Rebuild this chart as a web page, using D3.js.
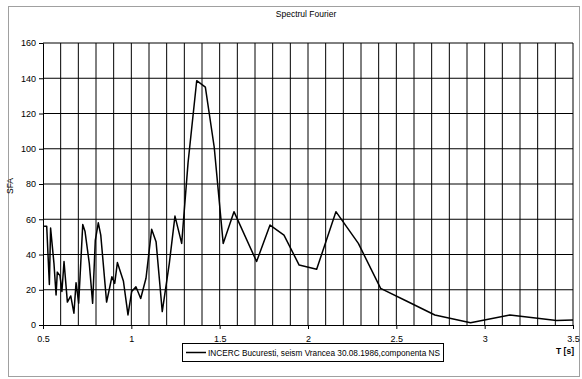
<!DOCTYPE html>
<html>
<head>
<meta charset="utf-8">
<script src="https://cdn.jsdelivr.net/npm/d3@7"></script>
<style>
  body { margin: 0; background: #fff; }
  svg { display: block; font-family: "Liberation Sans", Arial, sans-serif; }
  .grid line { stroke: #000; stroke-width: 1; shape-rendering: auto; }
  .axis path, .axis line { stroke: #000; }
  .axis text { font-size: 9px; fill: #000; }
</style>
</head>
<body>
<svg id="chart" width="582" height="379"></svg>
<script>
// periods T [s]
const periods = [0.506, 0.521, 0.536, 0.543, 0.562, 0.574, 0.581, 0.596, 0.607, 0.619,
  0.638, 0.657, 0.675, 0.687, 0.702, 0.725, 0.738, 0.762, 0.781, 0.796,
  0.813, 0.827, 0.860, 0.879, 0.890, 0.906, 0.921, 0.955, 0.981, 1.002,
  1.026, 1.053, 1.083, 1.115, 1.140, 1.175, 1.215, 1.247, 1.285, 1.321,
  1.370, 1.419, 1.469, 1.520, 1.581, 1.709, 1.785, 1.864, 1.950, 2.049,
  2.158, 2.285, 2.411, 2.560, 2.718, 2.920, 3.143, 3.407, 3.500]
// SFA values
const sfa = [56, 56, 23, 55, 35, 17, 30, 28, 19, 36,
  13, 16.5, 6.7, 24, 12.4, 57, 53, 35, 12.3, 48,
  58, 51, 13, 22, 27.4, 23.6, 35.4, 25, 5.7, 19,
  21.7, 15, 26.5, 54.3, 47.3, 7.6, 35, 61.8, 46.3, 92,
  138.6, 135, 101, 46.3, 64.3, 36, 56.7, 51, 34, 31.6,
  64.3, 46.3, 20.8, 13.5, 5.7, 1.3, 5.7, 2.5, 2.8]

const xTicks = [0.5, 1, 1.5, 2, 2.5, 3, 3.5]
const yTicks = [0, 20, 40, 60, 80, 100, 120, 140, 160]
const xGrid = d3.range(6, 36).map(d => d / 10)

const title = "Spectrul Fourier"
const yTitle = "SFA"
const xTitle = "T [s]"
const seriesName = "INCERC Bucuresti, seism Vrancea 30.08.1986,componenta NS"

const svg = d3.select("#chart")

// outer frame
svg.append("rect")
  .attr("x", 8.5).attr("y", 6.5)
  .attr("width", 571).attr("height", 370)
  .attr("fill", "#fff")
  .attr("stroke", "#a0a0a0")

const plotLeft = 43, plotTop = 43, plotRight = 573, plotBottom = 325

const xScale = d3.scaleLinear().domain([0.5, 3.5]).range([plotLeft, plotRight])
const yScale = d3.scaleLinear().domain([0, 160]).range([plotBottom, plotTop])

// grid
const grid = svg.append("g").attr("class", "grid")
grid.selectAll(".v")
  .data(xGrid)
  .enter()
  .append("line")
  .attr("x1", d => xScale(d)).attr("x2", d => xScale(d))
  .attr("y1", plotTop).attr("y2", plotBottom)
grid.selectAll(".h")
  .data(yTicks.slice(1))
  .enter()
  .append("line")
  .attr("x1", plotLeft).attr("x2", plotRight)
  .attr("y1", d => yScale(d)).attr("y2", d => yScale(d))

// axes
svg.append("g")
  .attr("class", "axis")
  .attr("transform", `translate(0, ${plotBottom})`)
  .call(d3.axisBottom(xScale).tickValues(xTicks).tickSize(4).tickPadding(7)
    .tickFormat(d3.format("")))

svg.append("g")
  .attr("class", "axis")
  .attr("transform", `translate(${plotLeft}, 0)`)
  .call(d3.axisLeft(yScale).tickValues(yTicks).tickSize(4).tickPadding(3))

// series
const line = d3.line()
  .x((d, i) => xScale(periods[i]))
  .y(d => yScale(d))

svg.append("path")
  .datum(sfa)
  .attr("fill", "none")
  .attr("stroke", "#000")
  .attr("stroke-width", 1.5)
  .attr("stroke-linejoin", "round")
  .attr("d", line)

// texts
svg.append("text")
  .attr("x", 306).attr("y", 17)
  .attr("text-anchor", "middle")
  .attr("font-size", "8.5px")
  .text(title)

svg.append("text")
  .attr("transform", "translate(13, 186) rotate(-90)")
  .attr("text-anchor", "middle")
  .attr("font-size", "8.5px")
  .text(yTitle)

svg.append("text")
  .attr("x", 565).attr("y", 354)
  .attr("text-anchor", "middle")
  .attr("font-size", "8.5px")
  .attr("font-weight", "bold")
  .text(xTitle)

// legend
const legend = svg.append("g").attr("transform", "translate(182, 343)")
legend.append("rect")
  .attr("x", 0.5).attr("y", 0.5)
  .attr("width", 261).attr("height", 18)
  .attr("fill", "#fff").attr("stroke", "#000")
legend.append("line")
  .attr("x1", 4).attr("x2", 24)
  .attr("y1", 9.5).attr("y2", 9.5)
  .attr("stroke", "#000").attr("stroke-width", 1.5)
legend.append("text")
  .attr("x", 26).attr("y", 12.5)
  .attr("font-size", "8.5px")
  .attr("textLength", 232)
  .attr("lengthAdjust", "spacingAndGlyphs")
  .text(seriesName)
</script>
</body>
</html>
